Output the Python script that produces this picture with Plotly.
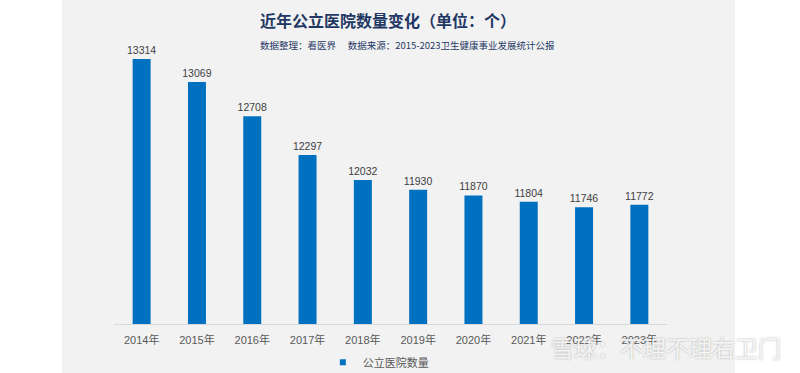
import plotly.graph_objects as go

years = ["2014年", "2015年", "2016年", "2017年", "2018年", "2019年", "2020年", "2021年", "2022年", "2023年"]
counts = [13314, 13069, 12708, 12297, 12032, 11930, 11870, 11804, 11746, 11772]
series_name = "公立医院数量"
title_text = "近年公立医院数量变化（单位：个）"
subtitle_text = "数据整理：看医界　 数据来源：2015-2023卫生健康事业发展统计公报"
watermark_text = "雪球：不理不理右卫门"

FONT = "Noto Sans CJK SC"
LATIN = "Liberation Sans, Noto Sans CJK SC"
BLUE = "#0070C0"

fig = go.Figure()
fig.add_trace(go.Bar(
    x=years, y=counts, name=series_name,
    marker=dict(color=BLUE, line=dict(width=0)),
    text=[str(v) for v in counts], textposition="outside",
    textfont=dict(family=LATIN, size=10.5, color="#404040"),
    constraintext="none",
    cliponaxis=False,
    showlegend=False,
))
# legend entry with a small square marker
fig.add_trace(go.Scatter(
    x=[None], y=[None], mode="markers", name=series_name,
    marker=dict(symbol="square", size=6, color=BLUE),
    showlegend=True,
))

fig.update_layout(
    width=800, height=373,
    margin=dict(l=114, r=133, t=50, b=49, autoexpand=False),
    paper_bgcolor="white", plot_bgcolor="rgba(0,0,0,0)",
    bargap=0.675,
    font=dict(family=FONT),
    showlegend=True,
    legend=dict(orientation="h", x=0.478, xanchor="center", y=-0.14, yanchor="middle",
                font=dict(family=FONT, size=11, color="#595959"),
                bgcolor="rgba(0,0,0,0)", itemwidth=30, tracegroupgap=0),
    xaxis=dict(showgrid=False, showline=True, linecolor="#d9d9d9", linewidth=1,
               ticks="", ticklabelstandoff=6,
               tickfont=dict(family=LATIN, size=11, color="#595959")),
    yaxis=dict(range=[10510, 13408], visible=False, showgrid=False),
    shapes=[dict(type="rect", xref="paper", yref="paper", x0=-0.094, x1=1.123,
                 y0=-0.18, y1=1.19, fillcolor="#f2f2f2", line=dict(width=0), layer="below")],
    annotations=[
        dict(text="<b>" + title_text + "</b>", xref="paper", yref="paper", x=0.4955, y=1.11,
             showarrow=False, xanchor="center", yanchor="middle",
             font=dict(family=FONT, size=16, color="#1f3864")),
        dict(text=subtitle_text, xref="paper", yref="paper", x=0.531, y=1.018,
             showarrow=False, xanchor="center", yanchor="middle",
             font=dict(family=FONT, size=9.5, color="#1f3864")),
        dict(text=watermark_text, xref="paper", yref="paper", x=1.21, y=-0.085,
             showarrow=False, xanchor="right", yanchor="middle",
             font=dict(family=FONT, size=23, color="rgba(255,255,255,0.85)",
                       shadow="0px 0px 2px rgba(90,90,90,0.6)")),
    ],
)

fig.write_html("out.html", config={"displayModeBar": False},
               post_script="document.body.style.margin='0';document.body.style.overflow='hidden';")
